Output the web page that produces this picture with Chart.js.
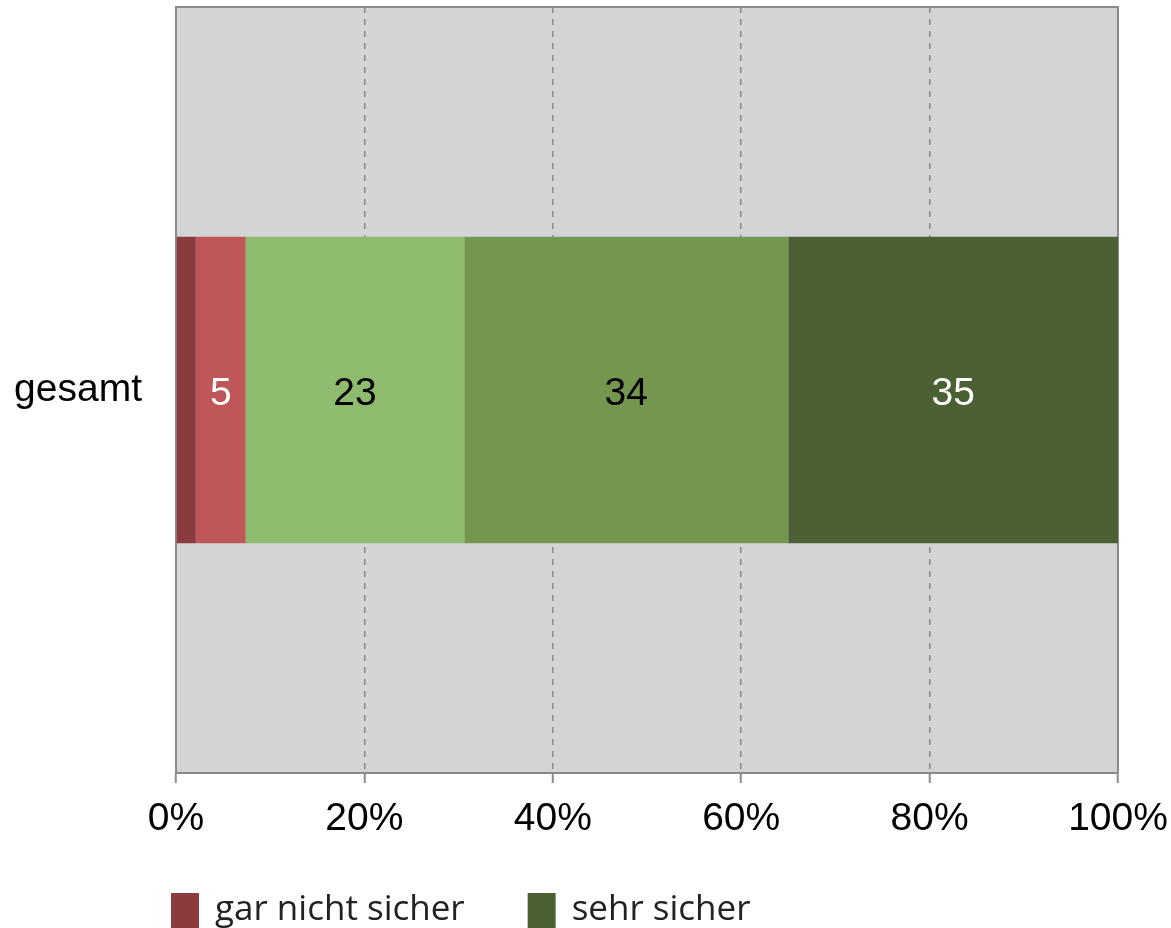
<!DOCTYPE html>
<html>
<head>
<meta charset="utf-8">
<script src="https://cdn.jsdelivr.net/npm/chart.js@4.4.0/dist/chart.umd.min.js"></script>
<style>
  html, body { margin: 0; padding: 0; background: #fff; overflow: hidden; }
</style>
</head>
<body>
<canvas id="chart" width="1171" height="928"></canvas>
<script>
// --- Data ---
const categories = ["gesamt"];
const seriesNames = ["gar nicht sicher", "eher nicht sicher", "teils/teils", "eher sicher", "sehr sicher"];
const seriesValues = [[2.1], [5.3], [23.2], [34.4], [35.0]];
const valueLabels = ["", "5", "23", "34", "35"];
const xTicks = [0, 20, 40, 60, 80, 100];
const legendShown = [0, 4];

// --- Styles ---
const seriesColors = ["#8b3a3e", "#bf5758", "#8fbb6e", "#74964f", "#4c6133"];
const labelColors = ["#ffffff", "#ffffff", "#000000", "#000000", "#ffffff"];
const plotBg = "#d3d4d6";
const lineGrey = "#8a8a8c";
const axisFont = { family: "'Liberation Sans', Arial, sans-serif", size: 39 };

// plot background + top/right frame
const plotFrame = {
  id: "plotFrame",
  beforeDraw(chart) {
    const { ctx, chartArea: a } = chart;
    ctx.save();
    ctx.fillStyle = plotBg;
    ctx.fillRect(a.left, a.top, a.right - a.left, a.bottom - a.top);
    ctx.restore();
  },
  beforeDatasetsDraw(chart) {
    const { ctx, chartArea: a } = chart;
    ctx.save();
    ctx.strokeStyle = lineGrey;
    ctx.lineWidth = 2;
    ctx.beginPath();
    ctx.moveTo(a.left, a.top);
    ctx.lineTo(a.right, a.top);
    ctx.lineTo(a.right, a.bottom);
    ctx.stroke();
    ctx.restore();
  }
};

// numbers in the middle of each segment
const segmentLabels = {
  id: "segmentLabels",
  afterDatasetsDraw(chart) {
    const { ctx } = chart;
    ctx.save();
    ctx.font = `${axisFont.size}px ${axisFont.family}`;
    ctx.textAlign = "center";
    ctx.textBaseline = "middle";
    chart.data.datasets.forEach((ds, i) => {
      const meta = chart.getDatasetMeta(i);
      meta.data.forEach(bar => {
        if (!valueLabels[i]) return;
        ctx.fillStyle = labelColors[i];
        ctx.fillText(valueLabels[i], (bar.x + bar.base) / 2, bar.y + 4);
      });
    });
    ctx.restore();
  }
};

// legend (only the first row is visible in the original)
const bottomLegend = {
  id: "bottomLegend",
  afterDraw(chart) {
    const { ctx, chartArea: a } = chart;
    const top = a.bottom + 120;
    const fontSize = 35;
    ctx.save();
    ctx.font = `${fontSize}px 'Open Sans', sans-serif`;
    ctx.textBaseline = "alphabetic";
    let x = a.left - 5;
    legendShown.forEach(i => {
      ctx.fillStyle = seriesColors[i];
      ctx.fillRect(x, top, 28, 40);
      ctx.fillStyle = "#222222";
      ctx.fillText(seriesNames[i], x + 44, top + 27);
      x += 44 + ctx.measureText(seriesNames[i]).width + 63;
    });
    ctx.restore();
  }
};

new Chart(document.getElementById("chart").getContext("2d"), {
  type: "bar",
  data: {
    labels: categories,
    datasets: seriesNames.map((name, i) => ({
      label: name,
      data: seriesValues[i],
      backgroundColor: seriesColors[i],
      borderWidth: 0,
      categoryPercentage: 1,
      barPercentage: 0.4
    }))
  },
  options: {
    indexAxis: "y",
    responsive: false,
    animation: false,
    devicePixelRatio: 1,
    layout: { padding: { top: 7, right: 53, bottom: 0, left: 0 } },
    plugins: { legend: { display: false }, tooltip: { enabled: false } },
    scales: {
      x: {
        type: "linear",
        stacked: true,
        min: 0,
        max: 100,
        afterBuildTicks: scale => { scale.ticks = xTicks.map(v => ({ value: v })); },
        afterFit: scale => {
          scale.height = 155;
          scale.paddingLeft = 0;
          scale.paddingRight = 0;
        },
        ticks: {
          font: axisFont,
          color: "#000",
          padding: 13,
          maxRotation: 0,
          callback: v => v + "%"
        },
        grid: {
          color: lineGrey,
          lineWidth: 1.5,
          borderDash: [6, 6],
          tickLength: 10,
          tickBorderDash: [],
          tickColor: lineGrey,
          tickWidth: 2
        },
        border: { color: lineGrey, width: 2, dash: [6, 6] }
      },
      y: {
        type: "category",
        stacked: true,
        afterFit: scale => {
          scale.width = 176;
          scale.paddingTop = 0;
          scale.paddingBottom = 0;
        },
        ticks: { font: axisFont, color: "#000", padding: 34 },
        grid: { display: false, drawTicks: false },
        border: { color: lineGrey, width: 2 }
      }
    }
  },
  plugins: [plotFrame, segmentLabels, bottomLegend]
});
</script>
</body>
</html>
